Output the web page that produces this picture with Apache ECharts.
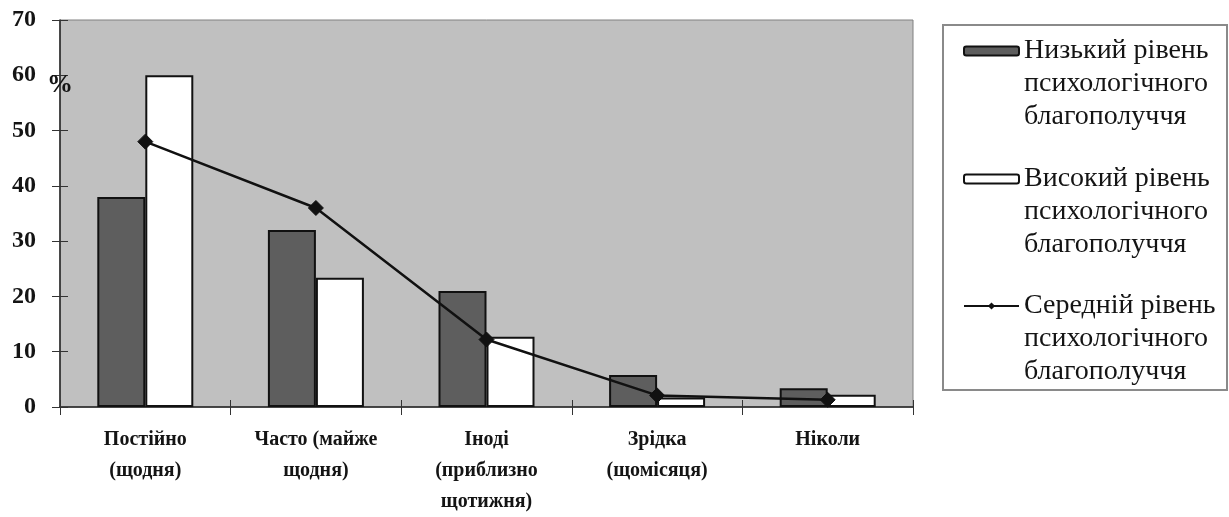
<!DOCTYPE html>
<html>
<head>
<meta charset="utf-8">
<script src="https://cdn.jsdelivr.net/npm/echarts@6/dist/echarts.min.js"></script>
<style>
  html, body { margin: 0; padding: 0; background: #fff; }
  #chart { width: 1229px; height: 517px; }
</style>
</head>
<body>
<div id="chart"></div>
<script>
// Частота: категорії по осі X
const categories = [
  'Постійно\n(щодня)',
  'Часто (майже\nщодня)',
  'Іноді\n(приблизно\nщотижня)',
  'Зрідка\n(щомісяця)',
  'Ніколи'
];

// Назви груп
const nameLow = 'Низький рівень\nпсихологічного\nблагополуччя';
const nameHigh = 'Високий рівень\nпсихологічного\nблагополуччя';
const nameMid = 'Середній рівень\nпсихологічного\nблагополуччя';

// Значення, %
const lowLevel = [38, 32, 21, 5.8, 3.4];
const highLevel = [60, 23.4, 12.7, 1.7, 2.2];
const midLevel = [48, 36, 12.2, 2.1, 1.3];

// Поділки осі Y
const yMin = 0, yMax = 70, yStep = 10;

const serif = 'Liberation Serif';
const ink = '#141414';

const chart = echarts.init(document.getElementById('chart'), null, { renderer: 'canvas' });

// Окрема легенда для кожної групи; два порожні рядки зверху
// вирівнюють значок по першому рядку підпису
function legendFor(name, top) {
  return {
    data: [name],
    orient: 'vertical',
    left: 963,
    top: top,
    padding: 0,
    itemWidth: 55,
    itemHeight: 9,
    itemGap: 0,
    selectedMode: false,
    formatter: (n) => '\n\n' + n,
    textStyle: {
      fontFamily: serif,
      fontSize: 28,
      lineHeight: 33,
      color: ink
    }
  };
}

chart.setOption({
  animation: false,
  backgroundColor: '#fff',
  grid: {
    left: 60, right: 316, top: 20, bottom: 108,
    show: true,
    backgroundColor: '#c0c0c0',
    borderColor: '#808080',
    borderWidth: 1
  },
  graphic: [
    {
      type: 'rect',
      shape: { x: 943, y: 25, width: 284, height: 365 },
      style: { fill: '#fff', stroke: '#8a8a8a', lineWidth: 2 },
      z: -1
    },
    {
      type: 'text',
      x: 60, y: 85,
      style: {
        text: '%',
        fontFamily: serif, fontWeight: 'bold', fontSize: 26,
        fill: ink, align: 'center', verticalAlign: 'middle'
      },
      z: 10
    }
  ],
  legend: [
    legendFor(nameLow, -31.5),
    legendFor(nameHigh, 96.5),
    legendFor(nameMid, 223.5)
  ],
  xAxis: [
    {
      type: 'category',
      data: categories,
      boundaryGap: true,
      axisLine: { lineStyle: { color: '#222', width: 1.5 } },
      axisTick: { show: true, inside: false, length: 8, lineStyle: { color: '#333' } },
      axisLabel: {
        fontFamily: serif, fontWeight: 'bold', fontSize: 20,
        lineHeight: 31, color: ink, margin: 17, interval: 0
      }
    },
    {
      // внутрішня частина перехресних поділок
      type: 'category',
      data: categories,
      position: 'bottom',
      boundaryGap: true,
      axisLine: { show: false },
      axisTick: { show: true, inside: true, length: 7, lineStyle: { color: '#333' } },
      axisLabel: { show: false }
    }
  ],
  yAxis: [
    {
      type: 'value',
      min: yMin, max: yMax, interval: yStep,
      splitLine: { show: false },
      axisLine: { show: true, lineStyle: { color: '#222', width: 1.5 } },
      axisTick: { show: true, length: 8, lineStyle: { color: '#333' } },
      axisLabel: {
        fontFamily: serif, fontWeight: 'bold', fontSize: 24,
        color: ink, margin: 24
      }
    },
    {
      type: 'value',
      position: 'left',
      min: yMin, max: yMax, interval: yStep,
      splitLine: { show: false },
      axisLine: { show: false },
      axisTick: { show: true, inside: true, length: 8, lineStyle: { color: '#333' } },
      axisLabel: { show: false }
    }
  ],
  series: [
    {
      name: nameLow,
      type: 'bar',
      data: lowLevel,
      barWidth: 48,
      barGap: '0%',
      itemStyle: { color: '#5e5e5e', borderColor: '#111', borderWidth: 2 }
    },
    {
      name: nameHigh,
      type: 'bar',
      data: highLevel,
      barWidth: 48,
      barGap: '0%',
      itemStyle: { color: '#ffffff', borderColor: '#111', borderWidth: 2 }
    },
    {
      name: nameMid,
      type: 'line',
      data: midLevel,
      symbol: 'diamond',
      symbolSize: 15,
      z: 5,
      lineStyle: { color: '#111', width: 2.5 },
      itemStyle: { color: '#111', borderColor: '#111' }
    }
  ]
});
</script>
</body>
</html>
